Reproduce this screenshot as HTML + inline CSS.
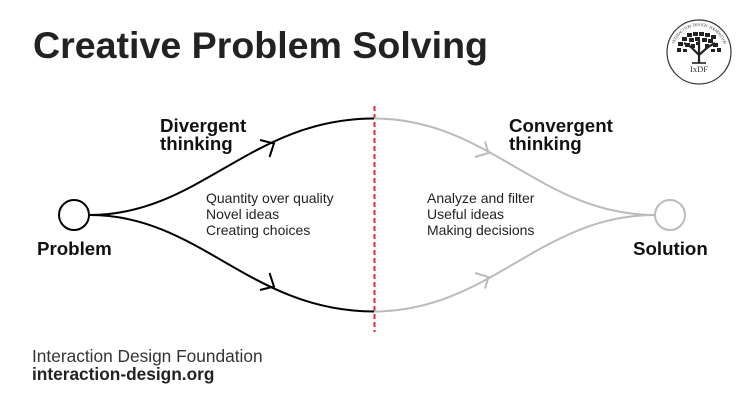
<!DOCTYPE html>
<html>
<head>
<meta charset="utf-8">
<style>
  html, body { margin: 0; padding: 0; background: #fff; }
  svg { display: block; }
  text { font-family: "Liberation Sans", Arial, sans-serif; }
  .ct { font-size: 4.2px; fill: #444; text-anchor: middle; font-family: "Liberation Serif", serif; }
</style>
</head>
<body>
<svg width="746" height="407" viewBox="0 0 746 407" xmlns="http://www.w3.org/2000/svg">
  <rect x="0" y="0" width="746" height="407" fill="#ffffff"/>

  <!-- Title -->
  <text x="33" y="58" font-size="37" font-weight="bold" fill="#222" textLength="455" lengthAdjust="spacingAndGlyphs">Creative Problem Solving</text>

  <!-- Logo -->
  <g>
    <circle cx="699" cy="52" r="32" fill="#fff" stroke="#333" stroke-width="1.2"/>
    <!-- circular text -->
    <text class="ct" transform="translate(674.57 43.11) rotate(-70)">I</text>
    <text class="ct" transform="translate(675.44 41.01) rotate(-65)">N</text>
    <text class="ct" transform="translate(676.48 39.00) rotate(-60)">T</text>
    <text class="ct" transform="translate(677.70 37.09) rotate(-55)">E</text>
    <text class="ct" transform="translate(679.08 35.29) rotate(-50)">R</text>
    <text class="ct" transform="translate(680.62 33.62) rotate(-45)">A</text>
    <text class="ct" transform="translate(682.29 32.08) rotate(-40)">C</text>
    <text class="ct" transform="translate(684.09 30.70) rotate(-35)">T</text>
    <text class="ct" transform="translate(686.00 29.48) rotate(-30)">I</text>
    <text class="ct" transform="translate(688.01 28.44) rotate(-25)">O</text>
    <text class="ct" transform="translate(690.11 27.57) rotate(-20)">N</text>
    <text class="ct" transform="translate(694.49 26.40) rotate(-10)">D</text>
    <text class="ct" transform="translate(696.73 26.10) rotate(-5)">E</text>
    <text class="ct" transform="translate(699.00 26.00) rotate(0)">S</text>
    <text class="ct" transform="translate(701.27 26.10) rotate(5)">I</text>
    <text class="ct" transform="translate(703.51 26.40) rotate(10)">G</text>
    <text class="ct" transform="translate(705.73 26.89) rotate(15)">N</text>
    <text class="ct" transform="translate(709.99 28.44) rotate(25)">F</text>
    <text class="ct" transform="translate(712.00 29.48) rotate(30)">O</text>
    <text class="ct" transform="translate(713.91 30.70) rotate(35)">U</text>
    <text class="ct" transform="translate(715.71 32.08) rotate(40)">N</text>
    <text class="ct" transform="translate(717.38 33.62) rotate(45)">D</text>
    <text class="ct" transform="translate(718.92 35.29) rotate(50)">A</text>
    <text class="ct" transform="translate(720.30 37.09) rotate(55)">T</text>
    <text class="ct" transform="translate(721.52 39.00) rotate(60)">I</text>
    <text class="ct" transform="translate(722.56 41.01) rotate(65)">O</text>
    <text class="ct" transform="translate(723.43 43.11) rotate(70)">N</text>
    <!-- trunk -->
    <path d="M699 63 L699 50 M699 55 L691 47 M699 55 L708 47 M699 51 L699 40 M691 47 L684 43 M708 47 L715 43" stroke="#222" stroke-width="2.2" fill="none"/>
    <path d="M692 63 L706 63" stroke="#222" stroke-width="1.6"/>
    <!-- foliage blocks -->
    <g fill="#222">
      <rect x="678" y="42" width="5" height="4"/>
      <rect x="677" y="48" width="4" height="4"/>
      <rect x="682" y="37" width="5" height="4"/>
      <rect x="685" y="43" width="5" height="4"/>
      <rect x="687" y="33" width="5" height="4"/>
      <rect x="689" y="38" width="5" height="4"/>
      <rect x="693" y="32" width="5" height="4"/>
      <rect x="695" y="37" width="5" height="4"/>
      <rect x="699" y="32" width="5" height="4"/>
      <rect x="702" y="38" width="5" height="4"/>
      <rect x="705" y="33" width="5" height="4"/>
      <rect x="708" y="39" width="5" height="4"/>
      <rect x="711" y="35" width="5" height="4"/>
      <rect x="713" y="43" width="5" height="4"/>
      <rect x="717" y="48" width="4" height="4"/>
      <rect x="691" y="44" width="4" height="4"/>
      <rect x="705" y="44" width="4" height="4"/>
      <rect x="683" y="49" width="4" height="3"/>
      <rect x="711" y="49" width="4" height="3"/>
      <rect x="696" y="42" width="4" height="3"/>
    </g>
    <text x="699" y="72" font-size="8.5" fill="#333" text-anchor="middle" style="font-family:'Liberation Serif', serif;">IxDF</text>
  </g>

  <!-- Red dashed divider -->
  <line x1="374.5" y1="106" x2="374.5" y2="332" stroke="#e8262b" stroke-width="2" stroke-dasharray="5 3"/>

  <!-- Divergent (black) curves -->
  <path d="M90 215 C 200 215 250 118.5 374 118.5" fill="none" stroke="#000" stroke-width="2"/>
  <path d="M90 215 C 200 215 250 311.5 374 311.5" fill="none" stroke="#000" stroke-width="2"/>
  <!-- black chevrons -->
  <path d="M260 140 L274 143.5 L269.5 157" fill="none" stroke="#000" stroke-width="2" stroke-linejoin="miter"/>
  <path d="M260 290 L274 286.5 L269.5 273" fill="none" stroke="#000" stroke-width="2" stroke-linejoin="miter"/>

  <!-- Convergent (gray) curves -->
  <path d="M374 118.5 C 490 118.5 540 215 655 215" fill="none" stroke="#bbb" stroke-width="2"/>
  <path d="M374 311.5 C 490 311.5 540 215 655 215" fill="none" stroke="#bbb" stroke-width="2"/>
  <!-- gray chevrons -->
  <path d="M475 157 L488.5 153 L485 141.5" fill="none" stroke="#bbb" stroke-width="2"/>
  <path d="M475 273 L488.5 277 L485 288.5" fill="none" stroke="#bbb" stroke-width="2"/>

  <!-- Nodes -->
  <circle cx="74" cy="215" r="15" fill="#fff" stroke="#000" stroke-width="2"/>
  <circle cx="670" cy="215" r="15" fill="#fff" stroke="#bbb" stroke-width="2"/>

  <!-- Labels -->
  <text x="37" y="255" font-size="18.7" font-weight="bold" fill="#111">Problem</text>
  <text x="633" y="255" font-size="18.7" font-weight="bold" fill="#111">Solution</text>

  <text x="160" y="132" font-size="18.7" font-weight="bold" fill="#111">Divergent</text>
  <text x="160" y="150" font-size="18.7" font-weight="bold" fill="#111">thinking</text>

  <text x="509" y="132" font-size="18.7" font-weight="bold" fill="#111">Convergent</text>
  <text x="509" y="150" font-size="18.7" font-weight="bold" fill="#111">thinking</text>

  <g font-size="14" fill="#222">
    <text x="206" y="203">Quantity over quality</text>
    <text x="206" y="219">Novel ideas</text>
    <text x="206" y="235">Creating choices</text>

    <text x="427" y="203">Analyze and filter</text>
    <text x="427" y="219">Useful ideas</text>
    <text x="427" y="235">Making decisions</text>
  </g>

  <!-- Footer -->
  <text x="32" y="362" font-size="17.3" fill="#333">Interaction Design Foundation</text>
  <text x="32" y="380" font-size="17.3" font-weight="bold" fill="#222">interaction-design.org</text>
</svg>
</body>
</html>
